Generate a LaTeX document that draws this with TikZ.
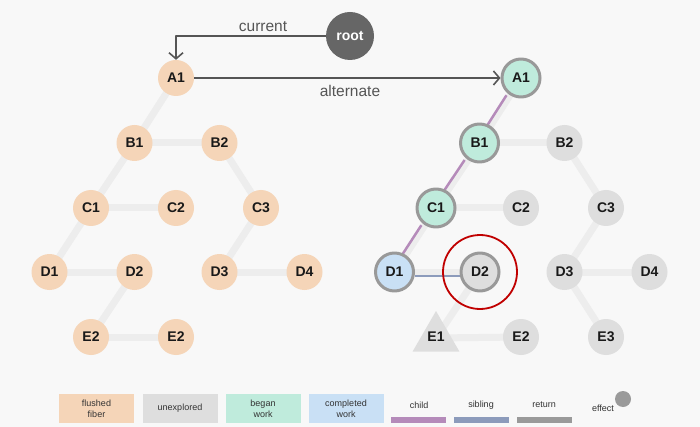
\documentclass[tikz,border=0pt]{standalone}
\usepackage{fontspec}
\setmainfont{Liberation Sans}
\usetikzlibrary{arrows.meta, shapes.geometric, backgrounds}

\definecolor{flushed}{HTML}{F5D5B8}
\definecolor{unexplored}{HTML}{DEDEDE}
\definecolor{began}{HTML}{BFEBDC}
\definecolor{completed}{HTML}{C9E0F5}
\definecolor{childcol}{HTML}{B58BBA}
\definecolor{siblingcol}{HTML}{8C9BBB}
\definecolor{returncol}{HTML}{9A9A9A}
\definecolor{edgecol}{HTML}{EDEDED}
\definecolor{ringcol}{HTML}{999999}
\definecolor{rootcol}{HTML}{666666}
\definecolor{bgcol}{HTML}{F8F8F8}
\definecolor{textcol}{HTML}{555555}
\definecolor{effectred}{HTML}{C00000}

\tikzset{
    fiber/.style={circle, minimum size=36pt, inner sep=0pt,
        font=\fontsize{14}{14}\selectfont\bfseries, text=black!90},
    ringed/.style={fiber, minimum size=38pt, draw=ringcol, line width=3pt},
    edge/.style={draw=edgecol, line width=7pt},
    legbox/.style={minimum width=75pt, minimum height=29pt, inner sep=0pt,
        align=center, font=\fontsize{9}{11}\selectfont, text=black!80},
    legbar/.style={minimum width=55pt, minimum height=6pt, inner sep=0pt},
    legtext/.style={font=\fontsize{9}{11}\selectfont, text=black!80}
}

\begin{document}
\begin{tikzpicture}[
    x=1pt, y=-1pt,
    line cap=butt,
    line join=round
]
\useasboundingbox (0,0) rectangle (700,427);

% Radice
\node[circle, fill=rootcol, minimum size=48pt, inner sep=0pt, text=white,
    font=\fontsize{14}{14}\selectfont\bfseries] (root) at (350,36) {root};

% Albero di sinistra (current)
\foreach \id/\txt/\x/\y in {
    A1/A1/176/78,
    B1/B1/134.5/143, B2/B2/219.5/143,
    C1/C1/91/208, C2/C2/176/208, C3/C3/261/208,
    D1/D1/49.5/272, D2/D2/134.5/272, D3/D3/219.5/272, D4/D4/304.5/272,
    E2a/E2/91/337, E2b/E2/176/337
}{
    \node[fiber, fill=flushed] (l\id) at (\x,\y) {\txt};
}

% Albero di destra (alternate)
\node[ringed, fill=began] (rA1) at (521,78) {A1};
\node[ringed, fill=began] (rB1) at (479.5,143) {B1};
\node[ringed, fill=began] (rC1) at (436,208) {C1};
\node[ringed, fill=completed] (rD1) at (394.5,272) {D1};
\node[ringed, fill=unexplored] (rD2) at (480,272) {D2};
\foreach \id/\x/\y in {
    B2/564.5/143,
    C2/521/208, C3/606/208,
    D3/564.5/272, D4/649.5/272,
    E2/521/337, E3/606/337
}{
    \node[fiber, fill=unexplored] (r\id) at (\x,\y) {\id};
}
\node[regular polygon, regular polygon sides=3, fill=unexplored,
    minimum size=54pt, inner sep=0pt,
    font=\fontsize{14}{14}\selectfont\bfseries, text=black!90] (rE1) at (436,338) {};
\node[font=\fontsize{14}{14}\selectfont\bfseries, text=black!90] (rE1txt) at (436,337) {E1};

% Effetto su D2
\node[circle, draw=effectred, line width=1.8pt, minimum size=74pt] (effD2) at (rD2) {};

% Collegamenti
\begin{scope}[on background layer]
    \fill[bgcol] (0,0) rectangle (700,427);
    \foreach \a/\b in {A1/B1, B1/B2, B1/C1, C1/C2, B2/C3, C1/D1,
        D1/D2, D2/E2a, E2a/E2b, C3/D3, D3/D4}{
        \draw[edge] (l\a.center) -- (l\b.center);
    }
    \foreach \a/\b in {A1/B1, B1/B2, B1/C1, C1/C2, B2/C3, C1/D1,
        D1/D2, D2/E1, E1/E2, C3/D3, D3/D4, D3/E3}{
        \draw[edge] (r\a.center) -- (r\b.center);
    }
    % child e sibling
    \begin{scope}[transform canvas={xshift=-3.5pt}]
        \draw[childcol, line width=2.5pt] (rA1) -- (rB1);
        \draw[childcol, line width=2.5pt] (rB1) -- (rC1);
        \draw[childcol, line width=2.5pt] (rC1) -- (rD1);
    \end{scope}
    \draw[siblingcol, line width=2.5pt, transform canvas={yshift=-4pt}]
        (rD1) -- (rD2);
\end{scope}

% Frecce
\draw[textcol, line width=1.6pt, -{Straight Barb[length=6pt, width=14pt]}]
    (root.west) -| (lA1.north);
\node[text=textcol, font=\fontsize{15.5}{16}\selectfont] (curlbl) at (263,27) {current};
\draw[textcol, line width=1.6pt, -{Straight Barb[length=6pt, width=14pt]}]
    (lA1.east) -- (rA1.west);
\node[text=textcol, font=\fontsize{15.5}{16}\selectfont] (altlbl) at (350,91) {alternate};

% Legenda
\node[legbox, fill=flushed] (kFlushed) at (96.5,408.5) {flushed\\fiber};
\node[legbox, fill=unexplored] (kUnexpl) at (180,408.5) {unexplored};
\node[legbox, fill=began] (kBegan) at (263,408.5) {began\\work};
\node[legbox, fill=completed] (kDone) at (346,408.5) {completed\\work};

\node[legbar, fill=childcol] (kChild) at (418.5,420) {};
\node[legbar, fill=siblingcol] (kSibling) at (481.5,420) {};
\node[legbar, fill=returncol] (kReturn) at (544.5,420) {};
\node[legtext] at (419,405) {child};
\node[legtext] at (481,405) {sibling};
\node[legtext] at (544,405) {return};

\node[legtext] (kEffect) at (603,408) {effect};
\node[circle, fill=returncol, minimum size=16pt, inner sep=0pt] (kDot) at (623,399) {};

\end{tikzpicture}
\end{document}
